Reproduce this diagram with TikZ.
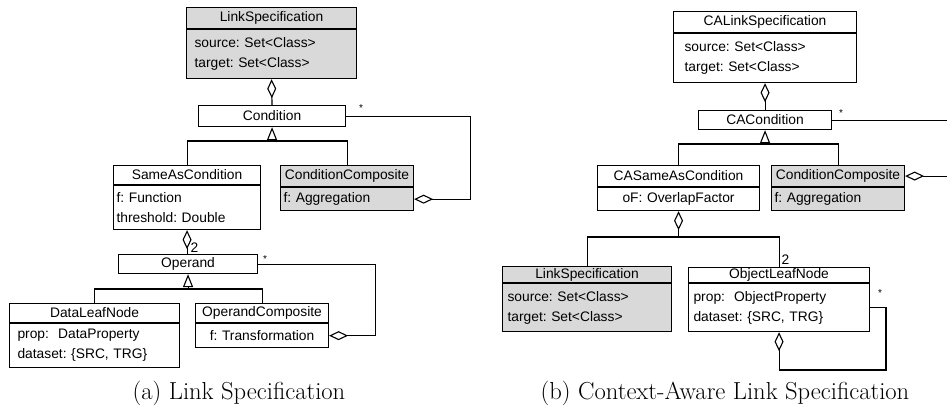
\documentclass[tikz,border=0pt]{standalone}
\usepackage{fontspec}
\newfontfamily\umlfont{Liberation Sans}
\usetikzlibrary{arrows.meta}
\definecolor{classgray}{RGB}{217,217,217}

\begin{document}
\begin{tikzpicture}[x=1pt, y=-1pt, line width=1.1pt,
    class_head/.style={draw, anchor=north west, inner sep=0pt,
        font=\umlfont\fontsize{13.8}{20}\selectfont\frenchspacing},
    class_body/.style={draw, anchor=north west, inner ysep=0pt, align=left,
        font=\umlfont\fontsize{13.8}{20}\selectfont\frenchspacing},
    agg_line/.style={-{Diamond[open, length=19pt, width=9pt]}},
    gen_line/.style={-{Triangle[open, length=13pt, width=10pt]}},
    mult_label/.style={inner sep=0pt, font=\umlfont\fontsize{10}{12}\selectfont},
    num_label/.style={inner sep=0pt, anchor=west, font=\umlfont\fontsize{13.8}{16}\selectfont},
    caption_text/.style={inner sep=0pt, font=\fontsize{24.6}{28}\selectfont}
]
    \useasboundingbox (0,0) rectangle (947,410);
    % (a) classes
    \node[class_head, fill=classgray, minimum width=170, minimum height=21] (ls) at (186,7) {LinkSpecification};
    \node[class_body, fill=classgray, minimum height=49, inner xsep=8, text width=154] (ls-b) at (ls.south west) {source: Set<Class>\\target: Set<Class>};
    \node[class_head, minimum width=147, minimum height=21] (cond) at (198,105) {Condition};
    \node[class_head, minimum width=147, minimum height=19] (sac) at (113,165) {SameAsCondition};
    \node[class_body, minimum height=44, inner xsep=3, text width=141] (sac-b) at (sac.south west) {f: Function\\threshold: Double};
    \node[class_head, fill=classgray, minimum width=133, minimum height=21] (cc) at (280,165) {ConditionComposite};
    \node[class_body, fill=classgray, minimum height=23, inner xsep=3, text width=127] (cc-b) at (cc.south west) {f: Aggregation};
    \node[class_head, minimum width=139, minimum height=19] (op) at (118,254) {Operand};
    \node[class_head, minimum width=170, minimum height=19] (dln) at (9,303) {DataLeafNode};
    \node[class_body, minimum height=44, inner xsep=8, text width=154] (dln-b) at (dln.south west) {prop:~ DataProperty\\dataset: \{SRC, TRG\}};
    \node[class_head, minimum width=133, minimum height=19] (oc) at (195,303) {OperandComposite};
    \node[class_body, minimum height=24, inner xsep=3, text width=127, align=center] (oc-b) at (oc.south west) {f: Transformation};
    % (a) relations
    \coordinate (j1) at (cond.south |- 0,141);
    \coordinate (j2) at (op.south |- 0,289);
    \draw[agg_line] (cond.north) -- (ls-b.south);
    \draw[gen_line] (j1) -- (cond.south);
    \draw (sac.north) |- (j1) -| (cc.north);
    \draw[agg_line] (cond.east) -- ++(124,0) |- (cc-b.east);
    \node[mult_label] (m1) at (361,108) {*};
    \draw[agg_line] (sac-b.south |- op.north) -- (sac-b.south);
    \node[num_label] (m2) at (190,248) {2};
    \draw[agg_line] (op.east) -- ++(117,0) |- (oc-b.east);
    \node[mult_label] (m3) at (265,259) {*};
    \draw[gen_line] (j2) -- (op.south);
    \draw (dln.north) |- (j2) -| (oc.north);

    % (b) classes
    \node[class_head, minimum width=183, minimum height=21] (cals) at (673,11) {CALinkSpecification};
    \node[class_body, minimum height=49, inner xsep=11, text width=161] (cals-b) at (cals.south west) {source: Set<Class>\\target: Set<Class>};
    \node[class_head, minimum width=133, minimum height=19] (cacond) at (698,110) {CACondition};
    \node[class_head, minimum width=162, minimum height=21] (casac) at (597,165) {CASameAsCondition};
    \node[class_body, minimum height=23, inner xsep=3, text width=156, align=center] (casac-b) at (casac.south west) {oF: OverlapFactor};
    \node[class_head, fill=classgray, minimum width=133, minimum height=21] (cc2) at (771,165) {ConditionComposite};
    \node[class_body, fill=classgray, minimum height=23, inner xsep=3, text width=127] (cc2-b) at (cc2.south west) {f: Aggregation};
    \node[class_head, fill=classgray, minimum width=169, minimum height=16] (ls2) at (502,266) {LinkSpecification};
    \node[class_body, fill=classgray, minimum height=48, inner xsep=5, text width=159] (ls2-b) at (ls2.south west) {source: Set<Class>\\target: Set<Class>};
    \node[class_head, minimum width=181, minimum height=15] (oln) at (688,267) {ObjectLeafNode};
    \node[class_body, minimum height=48, inner xsep=5, text width=171] (oln-b) at (oln.south west) {prop:~ ObjectProperty\\dataset: \{SRC, TRG\}};
    % (b) relations
    \coordinate (j3) at (cacond.south |- 0,144);
    \coordinate (j4) at (casac-b.south |- 0,237);
    \coordinate (e1) at (cacond.east -| 947,0);
    \coordinate (e2) at (cc2.east -| 947,0);
    \draw[agg_line] (cacond.north) -- (cals-b.south);
    \draw[gen_line] (j3) -- (cacond.south);
    \draw (casac.north) |- (j3) -| (cc2.north);
    \draw (cacond.east) -- (e1);
    \node[mult_label] (m4) at (841,113) {*};
    \draw[agg_line] (e2) -- (cc2.east);
    \draw[agg_line] (j4) -- (casac-b.south);
    \draw (ls2.north) |- (j4) -| (oln.north);
    \node[num_label] (m5) at (781,260) {2};
    \draw[agg_line] (oln-b.east) -| (886,370) -| (oln-b.south);
    \node[mult_label] (m6) at (880,293) {*};

    % captions
    \node[caption_text] (cap-a) at (239,393) {(a) Link Specification};
    \node[caption_text] (cap-b) at (725,393) {(b) Context-Aware Link Specification};
\end{tikzpicture}
\end{document}
